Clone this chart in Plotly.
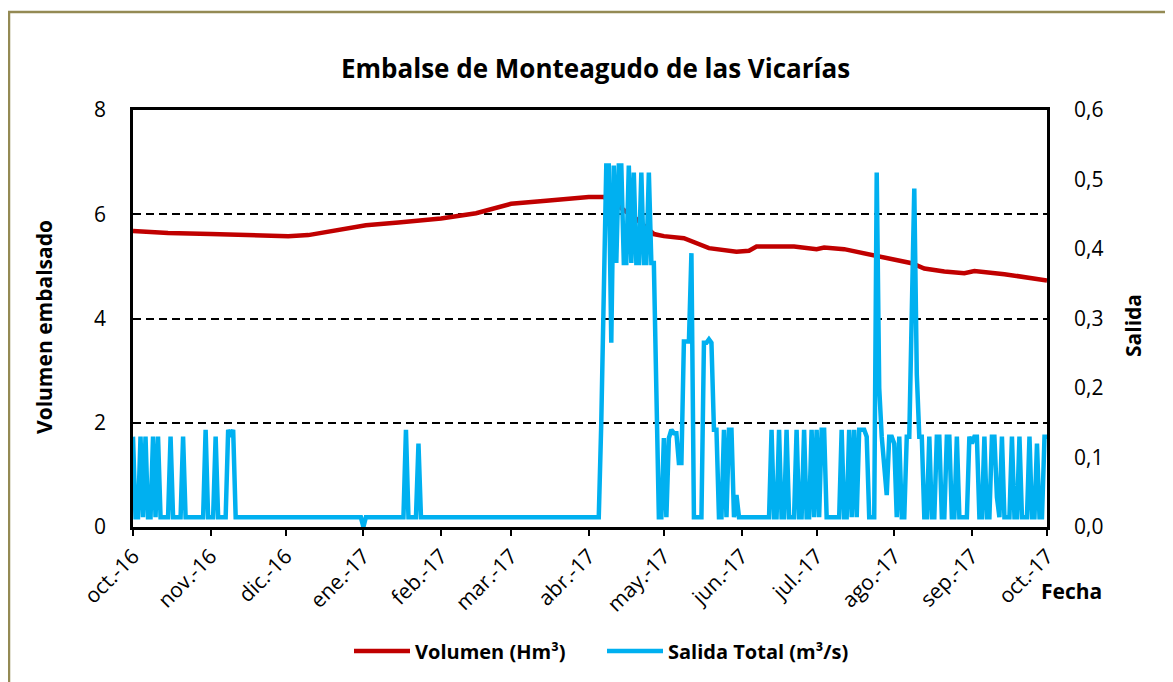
import datetime as dt
import plotly.graph_objects as go

# ---------------- DATA ----------------
month_ticks = ["2016-10-01", "2016-11-01", "2016-12-01", "2017-01-01", "2017-02-01",
               "2017-03-01", "2017-04-01", "2017-05-01", "2017-06-01", "2017-07-01",
               "2017-08-01", "2017-09-01", "2017-10-01"]
month_labels = ["oct.-16", "nov.-16", "dic.-16", "ene.-17", "feb.-17", "mar.-17",
                "abr.-17", "may.-17", "jun.-17", "jul.-17", "ago.-17", "sep.-17", "oct.-17"]

# Volumen embalsado (Hm3) read at selected dates
vol_dates = ["2016-10-01", "2016-10-15", "2016-11-01", "2016-11-12", "2016-12-02",
             "2016-12-10", "2016-12-18", "2017-01-02", "2017-01-15", "2017-02-01",
             "2017-02-15", "2017-03-01", "2017-03-15", "2017-04-01", "2017-04-07",
             "2017-04-10", "2017-04-15", "2017-04-19", "2017-04-27", "2017-05-01",
             "2017-05-09", "2017-05-14", "2017-05-19", "2017-05-30", "2017-06-04",
             "2017-06-07", "2017-06-22", "2017-07-01", "2017-07-04", "2017-07-12",
             "2017-07-20", "2017-07-28", "2017-08-08", "2017-08-13", "2017-08-21",
             "2017-08-29", "2017-09-02", "2017-09-14", "2017-10-01"]
vol_values = [5.68, 5.64, 5.62, 5.60, 5.58,
              5.60, 5.66, 5.79, 5.84, 5.92,
              6.02, 6.20, 6.26, 6.33, 6.33,
              6.27, 6.08, 5.95, 5.62, 5.58,
              5.54, 5.44, 5.35, 5.28, 5.30,
              5.38, 5.38, 5.33, 5.36, 5.33,
              5.25, 5.16, 5.06, 4.96, 4.90,
              4.87, 4.91, 4.85, 4.73]

# Salida total (m3/s), daily values per month
salida_oct16 = [0.13, 0.014, 0.014, 0.13, 0.014, 0.13, 0.014, 0.014, 0.13, 0.014,
                0.13, 0.014, 0.014, 0.014, 0.014, 0.13, 0.014, 0.014, 0.014, 0.014,
                0.13, 0.014, 0.014, 0.014, 0.014, 0.014, 0.014, 0.014, 0.014, 0.14, 0.014]
salida_nov16 = [0.014, 0.014, 0.13, 0.014, 0.014, 0.014, 0.014, 0.14, 0.13, 0.14,
                0.014, 0.014, 0.014, 0.014, 0.014, 0.014, 0.014, 0.014, 0.014, 0.014,
                0.014, 0.014, 0.014, 0.014, 0.014, 0.014, 0.014, 0.014, 0.014, 0.014]
salida_dec16 = [0.014, 0.014, 0.014, 0.014, 0.014, 0.014, 0.014, 0.014, 0.014, 0.014,
                0.014, 0.014, 0.014, 0.014, 0.014, 0.014, 0.014, 0.014, 0.014, 0.014,
                0.014, 0.014, 0.014, 0.014, 0.014, 0.014, 0.014, 0.014, 0.014, 0.014, 0.014]
salida_jan17 = [0.0, 0.014, 0.014, 0.014, 0.014, 0.014, 0.014, 0.014, 0.014, 0.014,
                0.014, 0.014, 0.014, 0.014, 0.014, 0.014, 0.014, 0.14, 0.014, 0.014,
                0.014, 0.014, 0.12, 0.014, 0.014, 0.014, 0.014, 0.014, 0.014, 0.014, 0.014]
salida_feb17 = [0.014, 0.014, 0.014, 0.014, 0.014, 0.014, 0.014, 0.014, 0.014, 0.014,
                0.014, 0.014, 0.014, 0.014, 0.014, 0.014, 0.014, 0.014, 0.014, 0.014,
                0.014, 0.014, 0.014, 0.014, 0.014, 0.014, 0.014, 0.014]
salida_mar17 = [0.014, 0.014, 0.014, 0.014, 0.014, 0.014, 0.014, 0.014, 0.014, 0.014,
                0.014, 0.014, 0.014, 0.014, 0.014, 0.014, 0.014, 0.014, 0.014, 0.014,
                0.014, 0.014, 0.014, 0.014, 0.014, 0.014, 0.014, 0.014, 0.014, 0.014, 0.014]
salida_apr17 = [0.014, 0.014, 0.014, 0.014, 0.014, 0.15, 0.33, 0.52, 0.52, 0.265,
                0.52, 0.38, 0.52, 0.52, 0.38, 0.38, 0.52, 0.38, 0.51, 0.38,
                0.38, 0.51, 0.38, 0.38, 0.51, 0.38, 0.38, 0.19, 0.014, 0.014]
salida_may17 = [0.128, 0.014, 0.128, 0.14, 0.135, 0.135, 0.092, 0.092, 0.267, 0.267,
                0.267, 0.394, 0.014, 0.014, 0.014, 0.014, 0.265, 0.265, 0.27, 0.265,
                0.14, 0.14, 0.014, 0.014, 0.14, 0.014, 0.14, 0.14, 0.014, 0.046, 0.014]
salida_jun17 = [0.014, 0.014, 0.014, 0.014, 0.014, 0.014, 0.014, 0.014, 0.014, 0.014,
                0.014, 0.014, 0.14, 0.014, 0.014, 0.14, 0.014, 0.014, 0.14, 0.014,
                0.014, 0.014, 0.14, 0.014, 0.014, 0.14, 0.014, 0.014, 0.14, 0.014]
salida_jul17 = [0.14, 0.014, 0.14, 0.14, 0.014, 0.014, 0.014, 0.014, 0.014, 0.014,
                0.14, 0.014, 0.014, 0.14, 0.014, 0.14, 0.014, 0.14, 0.14, 0.14,
                0.13, 0.014, 0.014, 0.014, 0.51, 0.2, 0.13, 0.09, 0.046, 0.13, 0.13]
salida_aug17 = [0.12, 0.014, 0.13, 0.014, 0.014, 0.13, 0.13, 0.3, 0.487, 0.22,
                0.13, 0.13, 0.014, 0.014, 0.13, 0.014, 0.014, 0.13, 0.13, 0.014,
                0.014, 0.13, 0.13, 0.014, 0.014, 0.13, 0.014, 0.014, 0.014, 0.014, 0.13]
salida_sep17 = [0.12, 0.13, 0.13, 0.014, 0.014, 0.13, 0.014, 0.014, 0.13, 0.13,
                0.043, 0.014, 0.13, 0.014, 0.014, 0.014, 0.13, 0.014, 0.014, 0.13,
                0.014, 0.014, 0.014, 0.13, 0.014, 0.014, 0.12, 0.014, 0.014, 0.13]
salida_oct17 = [0.13]

# ---------------- BUILD ----------------
salida_values = (salida_oct16 + salida_nov16 + salida_dec16 + salida_jan17 + salida_feb17 +
                 salida_mar17 + salida_apr17 + salida_may17 + salida_jun17 + salida_jul17 +
                 salida_aug17 + salida_sep17 + salida_oct17)
start = dt.date(2016, 10, 1)
salida_dates = [start + dt.timedelta(days=i) for i in range(len(salida_values))]

RED = "#C00000"
BLUE = "#00B0F0"
FONT = "Open Sans"

# page has an 8px body margin; figure sized so plot area lands where the reference has it
OFF = 8
W, H = 1165, 674
L, R, T, B = 125, 126, 102, 155
PW, PH = W - L - R, H - T - B


def px(x):  # reference pixel x -> paper coordinate
    return (x - OFF - L) / PW


def py(y):  # reference pixel y -> paper coordinate
    return (H - B - (y - OFF)) / PH


fig = go.Figure()
fig.add_trace(go.Scatter(x=vol_dates, y=vol_values, mode="lines", name="Volumen (Hm³)",
                         line=dict(color=RED, width=4.5), yaxis="y"))
fig.add_trace(go.Scatter(x=salida_dates, y=salida_values, mode="lines",
                         name="Salida Total (m³/s)",
                         line=dict(color=BLUE, width=4.5), yaxis="y2"))

fig.update_layout(
    width=W, height=H,
    margin=dict(l=L, r=R, t=T, b=B),
    paper_bgcolor="white", plot_bgcolor="white",
    separators=",.",
    font=dict(family=FONT, color="black", size=21),
    showlegend=True,
    legend=dict(orientation="h", x=px(602), y=py(651), xanchor="center", yanchor="middle",
                font=dict(family=FONT, size=20, weight="bold"), itemwidth=56,
                entrywidth=182, entrywidthmode="pixels",
                bgcolor="rgba(0,0,0,0)"),
    xaxis=dict(type="date", range=["2016-10-01", "2017-10-01"],
               tickvals=month_ticks, ticktext=month_labels, tickangle=-45,
               ticks="outside", ticklen=6, tickwidth=2, tickcolor="black",
               showline=True, linecolor="black", linewidth=2.5, mirror=True,
               showgrid=False, zeroline=False, tickfont=dict(size=21)),
    yaxis=dict(range=[0, 8], dtick=2, tickformat="d",
               showline=True, linecolor="black", linewidth=2.5, mirror=True,
               showgrid=True, gridcolor="black", gridwidth=2, griddash="8px,5px",
               zeroline=False, ticks="", ticklabelstandoff=20, tickfont=dict(size=21)),
    yaxis2=dict(range=[0, 0.6], dtick=0.1, tickformat=".1f", overlaying="y", side="right",
                showline=True, linecolor="black", linewidth=2.5,
                showgrid=False, zeroline=False, ticks="", ticklabelstandoff=20,
                tickfont=dict(size=21)),
    shapes=[dict(type="rect", xref="paper", yref="paper",
                 x0=px(9), x1=px(1200), y0=py(720), y1=py(12),
                 line=dict(color="#948A54", width=2.5), layer="below")],
    annotations=[
        dict(text="<b>Embalse de Monteagudo de las Vicarías</b>", xref="paper", yref="paper",
             x=px(595), y=py(68), showarrow=False, font=dict(size=26, family=FONT),
             xanchor="center", yanchor="middle"),
        dict(text="<b>Volumen embalsado</b>", xref="paper", yref="paper",
             x=px(44), y=py(327), showarrow=False, textangle=-90,
             font=dict(size=21, family=FONT), xanchor="center", yanchor="middle"),
        dict(text="<b>Salida</b>", xref="paper", yref="paper",
             x=px(1133), y=py(326), showarrow=False, textangle=-90,
             font=dict(size=21, family=FONT), xanchor="center", yanchor="middle"),
        dict(text="<b>Fecha</b>", xref="paper", yref="paper",
             x=px(1071), y=py(591), showarrow=False,
             font=dict(size=21, family=FONT), xanchor="center", yanchor="middle"),
    ],
)

fig.write_html("out.html")
